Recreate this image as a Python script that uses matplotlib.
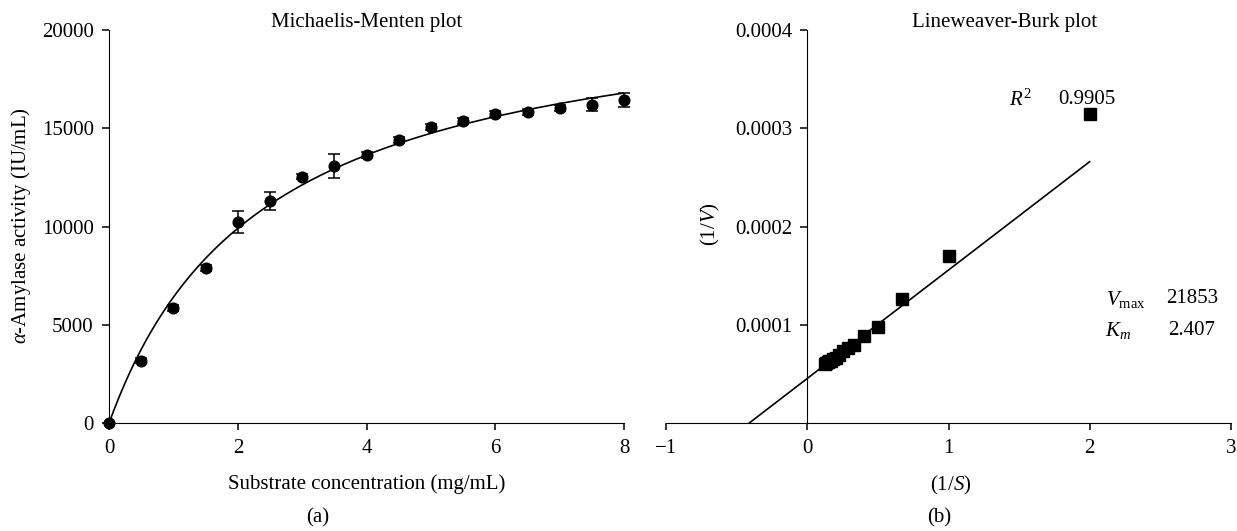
import numpy as np
import matplotlib.pyplot as plt

plt.rcParams['font.family'] = ['Liberation Serif', 'DejaVu Serif']
plt.rcParams['mathtext.fontset'] = 'custom'
plt.rcParams['mathtext.rm'] = 'Liberation Serif'
plt.rcParams['mathtext.it'] = 'Liberation Serif:italic'
plt.rcParams['font.size'] = 15

# substrate concentration (mg/mL) and activity (IU/mL)
conc = [0, 0.5, 1, 1.5, 2, 2.5, 3, 3.5, 4, 4.5, 5, 5.5, 6, 6.5, 7, 7.5, 8]
activity = [0, 3180, 5870, 7910, 10240, 11290, 12540, 13090, 13640,
            14420, 15060, 15370, 15710, 15820, 16020, 16200, 16460]
err = [0, 120, 150, 150, 550, 450, 120, 620, 150,
       150, 150, 150, 150, 150, 150, 320, 360]

vmax = 21853
km = 2.407
r2 = 0.9905

fig = plt.figure(figsize=(12.37, 5.31), dpi=100)
ax1 = fig.add_axes([0.0881, 0.2028, 0.4166, 0.7407])
ax2 = fig.add_axes([0.5387, 0.2028, 0.4562, 0.7407])

# --- Michaelis-Menten
xs = np.linspace(0, 8, 200)
ax1.plot(xs, vmax * xs / (km + xs), color='black', lw=1.2)
ax1.errorbar(conc, activity, yerr=err, fmt='o', color='black', ms=7.7,
             capsize=4, elinewidth=1.1, capthick=1.1, clip_on=False, zorder=3)
ax1.set_xlim(0, 8)
ax1.set_ylim(0, 20000)
ax1.set_xticks([0, 2, 4, 6, 8])
ax1.set_yticks([0, 5000, 10000, 15000, 20000])
ax1.spines['top'].set_visible(False)
ax1.spines['right'].set_visible(False)
ax1.tick_params(direction='out', length=5, width=1.1, pad=6)
ax1.set_xlabel('Substrate concentration (mg/mL)')
ax1.xaxis.set_label_coords(0.5, -0.129)
ax1.set_ylabel(r'$\alpha$-Amylase activity (IU/mL)')
ax1.yaxis.set_label_coords(-0.147, 0.502)
fig.text(ax1.get_position().x0 + ax1.get_position().width / 2, 0.957,
         'Michaelis-Menten plot', ha='center', va='center')
fig.text(0.257, 0.0245, '(a)', ha='center', va='center')

# --- Lineweaver-Burk
inv_s = [1 / c for c in conc[1:]]
inv_v = [1 / a for a in activity[1:]]
lx = np.array([-1 / km, 2])
ax2.plot(lx, lx * km / vmax + 1 / vmax, color='black', lw=1.2)
ax2.plot(inv_s, inv_v, 's', color='black', ms=9, clip_on=False, zorder=3)
ax2.set_xlim(-1, 3)
ax2.set_ylim(0, 0.0004)
ax2.set_xticks([-1, 0, 1, 2, 3])
ax2.set_xticklabels(['\u22121', '0', '1', '2', '3'])
ax2.set_yticks([0.0001, 0.0002, 0.0003, 0.0004])
ax2.set_yticklabels(['0.0001', '0.0002', '0.0003', '0.0004'])
ax2.spines['left'].set_position(('data', 0))
ax2.spines['bottom'].set_position(('data', 0))
ax2.spines['top'].set_visible(False)
ax2.spines['right'].set_visible(False)
ax2.tick_params(direction='out', length=5, width=1.1, pad=6)
ax2.set_xlabel(r'(1/$\mathit{S}$)')
ax2.xaxis.set_label_coords(0.504, -0.129)
ax2.set_ylabel(r'(1/$\mathit{V}$)')
ax2.yaxis.set_label_coords(0.0985, 0.506)
fig.text(0.8117, 0.957, 'Lineweaver-Burk plot', ha='center', va='center')
fig.text(0.759, 0.0245, '(b)', ha='center', va='center')

ax2.text(1.51, 0.000329, r'$R^2$', ha='center', va='center')
ax2.text(1.98, 0.000329, '%.4f' % r2, ha='center', va='center')
ax2.text(2.26, 0.000126, r'$V_{\mathrm{max}}$', ha='center', va='center')
ax2.text(2.725, 0.000127, str(vmax), ha='center', va='center')
ax2.text(2.2, 0.000094, r'$K_m$', ha='center', va='center')
ax2.text(2.72, 0.000094, '%.3f' % km, ha='center', va='center')

fig.savefig('out.png', dpi=100)
